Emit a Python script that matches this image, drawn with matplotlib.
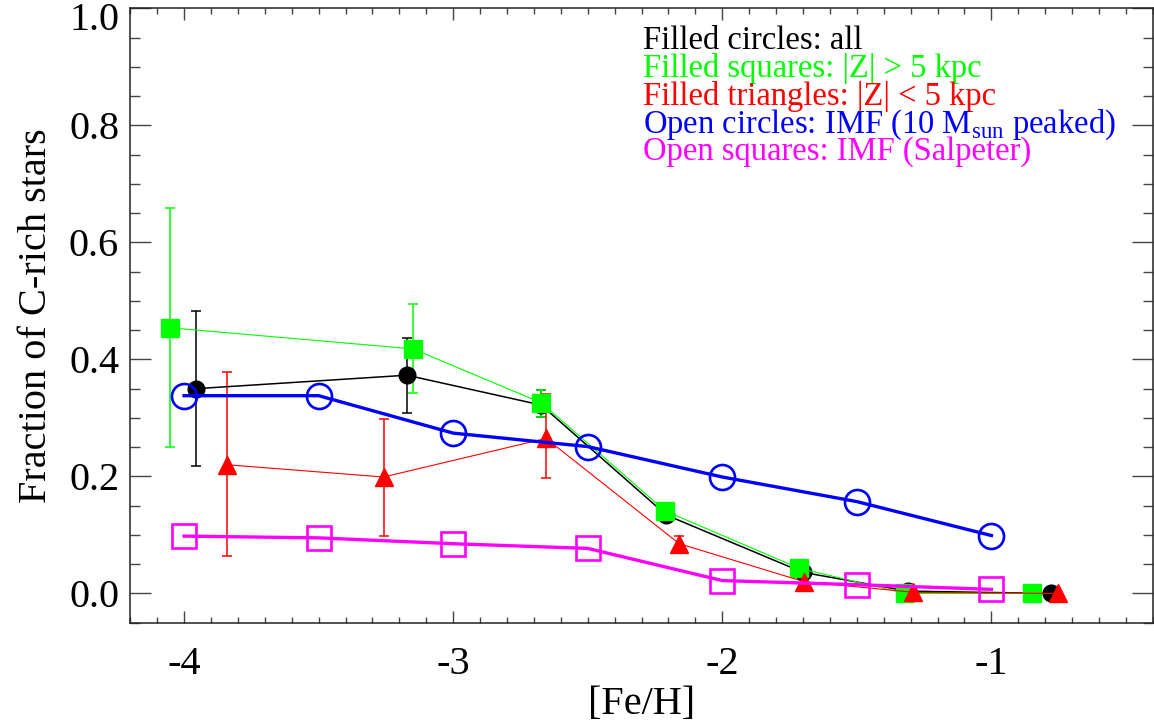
import numpy as np
import matplotlib
matplotlib.use("Agg")
import matplotlib.pyplot as plt
import matplotlib.transforms as mtransforms

plt.rcParams['font.family'] = ['Liberation Serif', 'DejaVu Serif']
plt.rcParams['mathtext.fontset'] = 'custom'
plt.rcParams['mathtext.rm'] = 'Liberation Serif'

# Data

# filled circles: all
all_feh = [-3.955, -3.172, -2.673, -2.208, -1.70, -1.31, -0.778]
all_frac = [0.350, 0.373, 0.322, 0.134, 0.036, 0.004, 0.0]
all_lo = [0.133, 0.064, 0.020, 0.0, 0.0, 0.0, 0.0]
all_hi = [0.132, 0.063, 0.026, 0.0, 0.0, 0.0, 0.0]

# filled squares: |Z| > 5 kpc
hi_feh = [-4.052, -3.150, -2.673, -2.212, -1.714, -1.320, -0.849]
hi_frac = [0.454, 0.418, 0.326, 0.141, 0.043, 0.0, 0.0]
hi_lo = [0.203, 0.075, 0.024, 0.0, 0.0, 0.0, 0.0]
hi_hi = [0.204, 0.076, 0.022, 0.0, 0.0, 0.0, 0.0]

# filled triangles: |Z| < 5 kpc
lo_feh = [-3.841, -3.259, -2.655, -2.160, -1.695, -1.29, -0.751]
lo_frac = [0.220, 0.199, 0.265, 0.085, 0.020, 0.002, 0.0]
lo_lo = [0.156, 0.100, 0.068, 0.014, 0.0, 0.0, 0.0]
lo_hi = [0.159, 0.100, 0.076, 0.014, 0.0, 0.0, 0.0]

# open circles: IMF (10 Msun peaked)
imf_feh = [-4.0, -3.5, -3.0, -2.5, -2.0, -1.5, -1.0]
imf10_frac = [0.338, 0.338, 0.274, 0.251, 0.199, 0.157, 0.099]
# open squares: IMF (Salpeter)
salp_frac = [0.098, 0.095, 0.085, 0.077, 0.022, 0.015, 0.007]

legend_lines = ["Filled circles: all",
                "Filled squares: |Z| > 5 kpc",
                "Filled triangles: |Z| < 5 kpc",
                r"Open circles: IMF (10 M$_{\mathrm{sun}}$ peaked)",
                "Open squares: IMF (Salpeter)"]
legend_colors = ["black", "#00ff00", "red", "blue", "magenta"]


def with_errors(ax, x, y, lo, hi, color, lw):
    x = np.array(x)
    y = np.array(y)
    lo = np.array(lo)
    hi = np.array(hi)
    m = (lo > 0) | (hi > 0)
    ax.errorbar(x[m], y[m], yerr=[lo[m], hi[m]], fmt='none', ecolor=color,
                elinewidth=lw, capsize=3.6, capthick=lw, zorder=2)


fig = plt.figure(figsize=(11.54, 7.24), dpi=100)
ax = fig.add_axes([0.1129, 0.1399, 0.8861, 0.8486])

with_errors(ax, all_feh, all_frac, all_lo, all_hi, "black", 1.1)
ax.plot(all_feh, all_frac, color="black", lw=1.1, marker="o", ms=12,
        mec="black", mfc="black", zorder=3)

with_errors(ax, hi_feh, hi_frac, hi_lo, hi_hi, "#00ff00", 1.1)
ax.plot(hi_feh, hi_frac, color="#00ff00", lw=0.8, marker="s", ms=12.5,
        mec="#00ff00", mfc="#00ff00", zorder=4)

with_errors(ax, lo_feh, lo_frac, lo_lo, lo_hi, "red", 1.1)
ax.plot(lo_feh, lo_frac, color="red", lw=0.8, marker="^", ms=13,
        mec="red", mfc="red", zorder=5)

ax.plot(imf_feh, imf10_frac, color="blue", lw=2.4, marker="o", ms=18,
        mfc="none", mec="blue", mew=1.9, zorder=6)
ax.plot(imf_feh, salp_frac, color="magenta", lw=2.4, marker="s", ms=17,
        mfc="none", mec="magenta", mew=1.9, zorder=7)

ax.set_xlim(-4.2, -0.4)
ax.set_ylim(-0.05, 1.0)
ax.set_xticks([-4, -3, -2, -1])
ax.set_xticklabels(["-4", "-3", "-2", "-1"])
ax.set_xticks(np.arange(-4.2, -0.39, 0.1), minor=True)
ax.set_yticks(np.arange(0, 1.01, 0.2))
ax.set_yticklabels(["%.1f" % v for v in np.arange(0, 1.01, 0.2)])
ax.set_yticks(np.arange(-0.05, 1.001, 0.05), minor=True)

ax.tick_params(axis="both", which="both", direction="in", top=True, right=True,
               color="#444444", width=1.0, labelsize=29)
ax.tick_params(axis="x", which="major", length=8.4, pad=17)
ax.tick_params(axis="x", which="minor", length=4.3)
ax.tick_params(axis="y", which="major", length=15, pad=8)
ax.tick_params(axis="y", which="minor", length=7.5)
for s in ax.spines.values():
    s.set_linewidth(1.1)
    s.set_color("#222222")

# the top label sits a little lower so it stays inside the figure
top_lab = ax.get_yticklabels()[-1]
top_lab.set_transform(top_lab.get_transform() +
                      mtransforms.ScaledTranslation(0, -8 / 100, fig.dpi_scale_trans))

ax.set_xlabel("[Fe/H]", fontsize=29, labelpad=2)
ax.set_ylabel("Fraction of C-rich stars", fontsize=29, labelpad=10)

# colour-coded key in the upper right
y0 = 49.3
for i, (txt, col) in enumerate(zip(legend_lines, legend_colors)):
    fig.text(643.3 / 1154, 1 - (y0 + 27.7 * i) / 724, txt, color=col,
             fontsize=23.5, ha="left", va="baseline")

fig.savefig("out.png", dpi=100)
